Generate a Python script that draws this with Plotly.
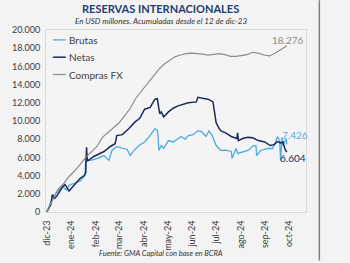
import plotly.graph_objects as go

# ---- data ----
compras_dates = ["2023-12-12","2023-12-19","2023-12-26","2024-01-02","2024-01-09","2024-01-16","2024-01-23",
                 "2024-01-30","2024-02-06","2024-02-13","2024-02-20","2024-02-27","2024-03-05","2024-03-12",
                 "2024-03-19","2024-03-26","2024-04-02","2024-04-09","2024-04-16","2024-04-23","2024-04-30",
                 "2024-05-07","2024-05-14","2024-05-21","2024-05-28","2024-06-04","2024-06-11","2024-06-18",
                 "2024-06-25","2024-07-02","2024-07-09","2024-07-16","2024-07-23","2024-07-30","2024-08-06",
                 "2024-08-13","2024-08-20","2024-08-27","2024-09-03","2024-09-10","2024-09-17","2024-09-24",
                 "2024-10-01","2024-10-09"]
compras_vals = [0, 1300, 2500, 3100, 3900, 4500, 5300, 6000, 6600, 7200, 8200, 8700, 9300, 9800,
                10600, 11400, 12500, 13300, 14000, 14800, 15600, 16200, 16650, 17050, 17250, 17400, 17450,
                17420, 17350, 17250, 17300, 17400, 17300, 17100, 17100, 17200, 17300, 17550, 17450, 17250,
                17150, 17450, 17800, 18276]

netas_dates = ["2023-12-12","2023-12-17","2023-12-19","2023-12-22","2023-12-25","2024-01-01","2024-01-04",
               "2024-01-09","2024-01-15","2024-01-23","2024-01-28","2024-01-30","2024-01-31","2024-02-01",
               "2024-02-09","2024-02-22","2024-03-01","2024-03-07","2024-03-09","2024-03-16","2024-03-24",
               "2024-04-01","2024-04-07","2024-04-13","2024-04-20","2024-04-26","2024-04-29","2024-05-02",
               "2024-05-04","2024-05-07","2024-05-13","2024-05-19","2024-05-25","2024-06-07","2024-06-17",
               "2024-06-19","2024-06-25","2024-07-02","2024-07-08","2024-07-12","2024-07-15","2024-07-18",
               "2024-07-24","2024-07-31","2024-08-07","2024-08-08","2024-08-09","2024-08-15","2024-08-21",
               "2024-08-27","2024-09-03","2024-09-11","2024-09-18","2024-09-23","2024-09-27","2024-10-01",
               "2024-10-04","2024-10-07","2024-10-09"]
netas_vals = [0, 800, 1900, 1500, 1800, 2800, 3000, 2300, 2900, 3700, 4000, 4300, 7100, 5600,
              6100, 6650, 7200, 7500, 8400, 8500, 9150, 9900, 10300, 11300, 11500, 12400, 12450, 10800,
              11000, 10450, 11000, 11400, 11660, 12000, 12100, 12600, 12500, 12400, 12100, 9800, 9300, 8900,
              8700, 8300, 8070, 8700, 7850, 8100, 8200, 8150, 7850, 7700, 7300, 7400, 7740, 7600,
              7700, 6800, 6604]

brutas_dates = ["2023-12-12","2023-12-19","2023-12-22","2024-01-01","2024-01-06","2024-01-09","2024-01-23",
                "2024-01-29","2024-01-30","2024-02-01","2024-02-05","2024-02-14","2024-02-22","2024-02-28",
                "2024-03-03","2024-03-09","2024-03-16","2024-03-22","2024-03-26","2024-03-31","2024-04-06",
                "2024-04-13","2024-04-19","2024-04-26","2024-04-29","2024-04-30","2024-05-01","2024-05-04",
                "2024-05-07","2024-05-13","2024-05-19","2024-05-25","2024-05-29","2024-06-03","2024-06-07",
                "2024-06-13","2024-06-19","2024-06-24","2024-06-29","2024-07-03","2024-07-07","2024-07-12",
                "2024-07-18","2024-07-24","2024-07-31","2024-08-01","2024-08-06","2024-08-08","2024-08-15",
                "2024-08-21","2024-08-28","2024-08-31","2024-09-01","2024-09-06","2024-09-15","2024-09-21",
                "2024-09-25","2024-09-27","2024-09-30","2024-10-01","2024-10-03","2024-10-04","2024-10-08",
                "2024-10-09"]
brutas_vals = [0, 1500, 1900, 2800, 2400, 2950, 3400, 4000, 6200, 5670, 5670, 5900, 6200, 5670,
               6760, 7200, 7000, 6900, 6200, 6800, 7300, 7700, 8300, 9150, 9000, 8300, 6760, 7300,
               7000, 7850, 7700, 8100, 8300, 8000, 8400, 8500, 8940, 8800, 8300, 8900, 8400, 7300,
               6760, 6800, 6650, 5900, 6980, 6430, 6600, 6760, 7300, 7300, 6200, 6760, 6980, 6980,
               7740, 8300, 7800, 5670, 8200, 7300, 8070, 7426]

tick_dates = ["2023-12-12","2024-01-12","2024-02-12","2024-03-12","2024-04-12","2024-05-12",
              "2024-06-12","2024-07-12","2024-08-12","2024-09-12","2024-10-12"]
tick_labels = ["dic-23","ene-24","feb-24","mar-24","abr-24","may-24","jun-24","jul-24",
               "ago-24","sep-24","oct-24"]

series_names = ["Brutas", "Netas", "Compras FX"]

C_BRUTAS = "#4aace0"
C_NETAS = "#1b2a5e"
C_COMPRAS = "#8c8c8c"
FONT = "Lato"

# plot-area geometry (pixels) for paper-coordinate placement
L, R, T, B = 43, 306, 30, 214
PW, PH = R - L, B - T
def px(x):
    return (x - L) / PW
def py(y):
    return (B - y) / PH

fig = go.Figure()
fig.add_trace(go.Scatter(x=brutas_dates, y=brutas_vals, name=series_names[0], mode="lines",
                         line=dict(color=C_BRUTAS, width=1.3), showlegend=False))
fig.add_trace(go.Scatter(x=netas_dates, y=netas_vals, name=series_names[1], mode="lines",
                         line=dict(color=C_NETAS, width=1.5), showlegend=False))
fig.add_trace(go.Scatter(x=compras_dates, y=compras_vals, name=series_names[2], mode="lines",
                         line=dict(color=C_COMPRAS, width=1.2), showlegend=False))

def fmt(v):
    return f"{v:,}".replace(",", ".")

fig.add_annotation(x=compras_dates[-1], y=compras_vals[-1], text=fmt(compras_vals[-1]),
                   showarrow=False, yshift=6, xshift=1, font=dict(color=C_COMPRAS, size=10, family=FONT))
fig.add_annotation(x=brutas_dates[-1], y=brutas_vals[-1], text=fmt(brutas_vals[-1]),
                   showarrow=False, yshift=9, xshift=8, font=dict(color=C_BRUTAS, size=10, family=FONT))
fig.add_annotation(x=netas_dates[-1], y=netas_vals[-1], text=fmt(netas_vals[-1]),
                   showarrow=False, yshift=-6, xshift=6, font=dict(color=C_NETAS, size=10, family=FONT))

# custom legend (short line glyphs like the reference)
for i, (nm, col, w) in enumerate(zip(series_names, [C_BRUTAS, C_NETAS, C_COMPRAS], [1.3, 1.5, 1.2])):
    yy = 40 + i * 17.5
    fig.add_shape(type="line", xref="paper", yref="paper", x0=px(50), x1=px(63), y0=py(yy), y1=py(yy),
                  line=dict(color=col, width=w))
    fig.add_annotation(xref="paper", yref="paper", x=px(64), y=py(yy), text=nm, showarrow=False,
                       xanchor="left", yanchor="middle", font=dict(size=10, color="#404040", family=FONT))

# titles
CX = px(159)
fig.add_annotation(xref="paper", yref="paper", x=CX, y=py(8), xanchor="center", yanchor="middle",
                   text="<b>RESERVAS INTERNACIONALES</b>", showarrow=False,
                   font=dict(color="#1f3d73", size=11, family=FONT))
fig.add_annotation(xref="paper", yref="paper", x=CX, y=py(21), xanchor="center", yanchor="middle",
                   text="<i>En USD millones. Acumuladas desde el 12 de dic-23</i>", showarrow=False,
                   font=dict(color="#333333", size=8, family=FONT))
fig.add_annotation(xref="paper", yref="paper", x=CX, y=py(256), xanchor="center", yanchor="middle",
                   text="<i>Fuente: GMA Capital con base en BCRA</i>", showarrow=False,
                   font=dict(color="#333333", size=7.5, family=FONT))

# right border line of the panel
fig.add_shape(type="line", xref="paper", yref="paper", x0=px(319.5), x1=px(319.5),
              y0=py(263), y1=py(0), line=dict(color="#808080", width=1.5))

fig.update_layout(
    width=350, height=263,
    margin=dict(l=L, r=350 - R, t=T, b=263 - B),
    paper_bgcolor="#f3f3f3", plot_bgcolor="#f4f4f4",
    separators=",.",
    font=dict(family=FONT, size=9, color="#404040"),
    showlegend=False,
    xaxis=dict(type="date", range=["2023-12-11", "2024-11-02"], tickvals=tick_dates,
               ticktext=tick_labels, tickangle=-90, showgrid=False, zeroline=False,
               showline=True, mirror=True, linecolor="#dadada", linewidth=1,
               ticks="", ticklabelstandoff=4, tickfont=dict(size=9, color="#404040")),
    yaxis=dict(range=[0, 20000], dtick=2000, tickformat=",d", showgrid=False, zeroline=False,
               showline=True, mirror=True, linecolor="#dadada", linewidth=1, ticks="",
               ticklabelstandoff=3, tickfont=dict(size=9, color="#404040")),
)

fig.write_html("out.html")
